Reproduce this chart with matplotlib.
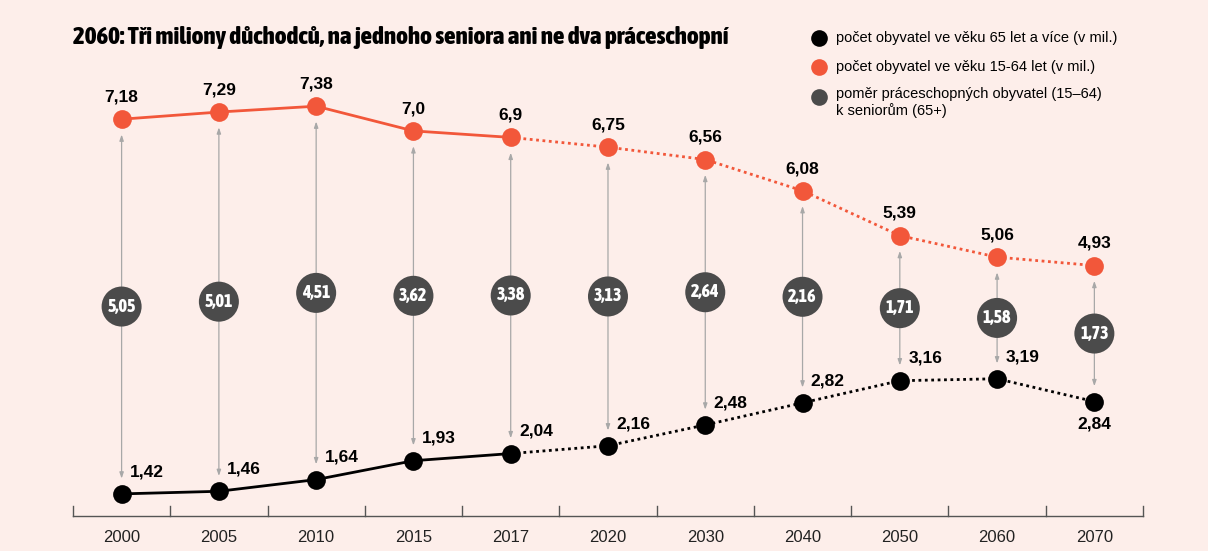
import matplotlib.pyplot as plt
from matplotlib import font_manager
from matplotlib.lines import Line2D

# údaje
roky = ['2000', '2005', '2010', '2015', '2017', '2020', '2030', '2040', '2050', '2060', '2070']
pracujici = [7.18, 7.29, 7.38, 7.0, 6.9, 6.75, 6.56, 6.08, 5.39, 5.06, 4.93]
seniori = [1.42, 1.46, 1.64, 1.93, 2.04, 2.16, 2.48, 2.82, 3.16, 3.19, 2.84]
pomer = [5.05, 5.01, 4.51, 3.62, 3.38, 3.13, 2.64, 2.16, 1.71, 1.58, 1.73]
posledni_skutecny = 4  # 2017, dál projekce

BG = '#fdeeea'
ORANZ = '#f2573a'
SEDA = '#4b4b4b'

def cz(v):
    s = f'{v:.2f}'.rstrip('0')
    if s.endswith('.'):
        s += '0'
    return s.replace('.', ',')

# úzké tučné písmo, pokud je k dispozici
poradi = {'ultra-condensed': 0, 'extra-condensed': 1, 'condensed': 2, 'semi-condensed': 3}
uzke = [f for f in font_manager.fontManager.ttflist
        if f.stretch in poradi and isinstance(f.weight, int) and f.weight >= 700]
uzke.sort(key=lambda f: (poradi[f.stretch], abs(f.weight - 800)))
if uzke:
    uzky_font = dict(fname=uzke[0].fname)
    titul_size = 18
else:
    uzky_font = dict(family='Roboto', weight='bold')
    titul_size = 14

fig = plt.figure(figsize=(12.08, 5.51), dpi=100, facecolor=BG)
ax = fig.add_axes([0.0604, 0.0635, 0.8858, 0.8276])
ax.set_facecolor(BG)
ax.set_xlim(-0.5, 10.5)
ax.set_ylim(1.08, 8.09)

x = list(range(len(roky)))
k = posledni_skutecny

# linky: plná do 2017, tečkovaná pro projekci
for data, col in [(pracujici, ORANZ), (seniori, 'black')]:
    ax.plot(x[:k + 1], data[:k + 1], color=col, lw=2, zorder=2)
    ax.plot(x[k:], data[k:], color=col, lw=2, ls=(0, (1, 1.3)), zorder=2)
    ax.plot(x, data, 'o', color=col, ms=13.5, mec='none', zorder=3)

# šipky a bubliny s poměrem
for i in x:
    ax.annotate('', xy=(i, seniori[i]), xytext=(i, pracujici[i]),
                arrowprops=dict(arrowstyle='<|-|>,head_length=0.35,head_width=0.12',
                                color='#a8a8a8', lw=0.9, shrinkA=11, shrinkB=11),
                zorder=1)
    ym = (pracujici[i] + seniori[i]) / 2
    ax.scatter(i, ym, s=830, color=SEDA, zorder=4, edgecolors='none')
    ax.text(i, ym, cz(pomer[i]), color='white', ha='center', va='center',
            fontproperties=font_manager.FontProperties(size=13, **uzky_font),
            zorder=5)

# popisky hodnot
for i in x:
    ax.annotate(cz(pracujici[i]), (i, pracujici[i]), xytext=(0, 16),
                textcoords='offset points', ha='center', va='center',
                fontsize=12.5, fontweight='bold', family='Liberation Sans')
    if i == len(x) - 1:
        ax.annotate(cz(seniori[i]), (i, seniori[i]), xytext=(0, -16),
                    textcoords='offset points', ha='center', va='center',
                    fontsize=12.5, fontweight='bold', family='Liberation Sans')
    else:
        ax.annotate(cz(seniori[i]), (i, seniori[i]), xytext=(6, 16),
                    textcoords='offset points', ha='left', va='center',
                    fontsize=12.5, fontweight='bold', family='Liberation Sans')

# osa x
for s in ['top', 'right', 'left']:
    ax.spines[s].set_visible(False)
ax.spines['bottom'].set_color('#555555')
ax.spines['bottom'].set_linewidth(1)
ax.set_yticks([])
ax.set_xticks(x)
ax.set_xticklabels(roky, fontsize=12, family='Liberation Sans', color='#222222')
ax.tick_params(axis='x', length=0, pad=10)
for b in [i - 0.5 for i in range(len(roky) + 1)]:
    ax.plot([b, b], [1.08, 1.24], color='#555555', lw=1, clip_on=False)

# titulek
fig.text(0.0604, 0.932, '2060: Tři miliony důchodců, na jednoho seniora ani ne dva práceschopní',
         fontproperties=font_manager.FontProperties(size=titul_size, **uzky_font),
         va='center', ha='left')

# legenda
leg = [('black', 'počet obyvatel ve věku 65 let a více (v mil.)', 0.931),
       (ORANZ, 'počet obyvatel ve věku 15-64 let (v mil.)', 0.878),
       (SEDA, 'poměr práceschopných obyvatel (15–64)\nk seniorům (65+)', 0.824)]
for col, txt, yy in leg:
    fig.add_artist(Line2D([0.678], [yy], marker='o', ms=12, color=col, mec='none',
                          transform=fig.transFigure))
    if '\n' in txt:
        fig.text(0.692, yy + 0.019, txt, fontsize=10.5, family='Liberation Sans',
                 va='top', ha='left', linespacing=1.2)
    else:
        fig.text(0.692, yy, txt, fontsize=10.5, family='Liberation Sans',
                 va='center', ha='left')

fig.savefig('out.png', dpi=100, facecolor=BG)
